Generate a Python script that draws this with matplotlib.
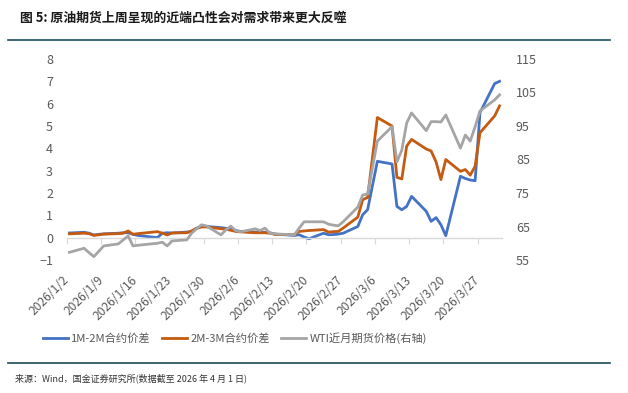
import matplotlib
matplotlib.use("Agg")
import matplotlib.pyplot as plt
import matplotlib.dates as mdates
import matplotlib.transforms as mtransforms
import pandas as pd
import numpy as np

plt.rcParams['font.family'] = ['Noto Sans CJK SC', 'DejaVu Sans']

# ---------------- data ----------------
dates = [
    "2026-01-02", "2026-01-05", "2026-01-06", "2026-01-07", "2026-01-08", "2026-01-09",
    "2026-01-12", "2026-01-13", "2026-01-14", "2026-01-15", "2026-01-16",
    "2026-01-20", "2026-01-21", "2026-01-22", "2026-01-23",
    "2026-01-26", "2026-01-27", "2026-01-28", "2026-01-29", "2026-01-30",
    "2026-02-02", "2026-02-03", "2026-02-04", "2026-02-05", "2026-02-06",
    "2026-02-09", "2026-02-10", "2026-02-11", "2026-02-12", "2026-02-13",
    "2026-02-17", "2026-02-18", "2026-02-19", "2026-02-20",
    "2026-02-23", "2026-02-24", "2026-02-25", "2026-02-26", "2026-02-27",
    "2026-03-02", "2026-03-03", "2026-03-04", "2026-03-06",
    "2026-03-09", "2026-03-10", "2026-03-11", "2026-03-12", "2026-03-13",
    "2026-03-16", "2026-03-17", "2026-03-18", "2026-03-19", "2026-03-20",
    "2026-03-23", "2026-03-24", "2026-03-25", "2026-03-26", "2026-03-27",
    "2026-03-30", "2026-03-31",
]

spread_1m2m = [
    0.21, 0.24, 0.20, 0.12, 0.15, 0.17, 0.20, 0.22, 0.22, 0.15, 0.10,
    0.00, 0.20, 0.22, 0.21, 0.25, 0.28, 0.42, 0.50, 0.50,
    0.45, 0.42, 0.38, 0.32, 0.28, 0.25, 0.24, 0.24, 0.22, 0.16,
    0.10, 0.13, 0.03, -0.05, 0.20, 0.13, 0.14, 0.16, 0.20,
    0.50, 1.03, 1.25, 3.42, 3.30, 1.40, 1.25, 1.40, 1.85,
    1.18, 0.73, 0.90, 0.58, 0.09, 2.75, 2.65, 2.58, 2.55, 5.60,
    6.90, 7.00,
]

spread_2m3m = [
    0.17, 0.20, 0.18, 0.10, 0.13, 0.16, 0.18, 0.20, 0.30, 0.15, 0.18,
    0.27, 0.20, 0.12, 0.21, 0.22, 0.30, 0.42, 0.48, 0.48,
    0.40, 0.38, 0.33, 0.28, 0.26, 0.22, 0.22, 0.22, 0.20, 0.15,
    0.13, 0.28, 0.30, 0.32, 0.36, 0.25, 0.27, 0.28, 0.43,
    0.92, 1.70, 1.80, 5.38, 5.00, 2.70, 2.63, 4.10, 4.40,
    3.97, 3.88, 3.40, 2.60, 3.50, 2.97, 3.05, 2.80, 3.20, 4.70,
    5.45, 5.90,
]

wti_front = [
    57.3, 58.5, 57.2, 56.0, 57.6, 59.2, 59.8, 61.0, 62.2, 59.2, 59.4,
    60.0, 60.3, 59.2, 60.7, 61.0, 63.0, 64.3, 65.5, 65.2,
    62.5, 64.0, 65.1, 63.8, 63.4, 64.3, 63.8, 64.5, 63.0, 62.8,
    62.5, 64.5, 66.4, 66.4, 66.4, 65.7, 65.4, 65.2, 66.4,
    70.8, 74.4, 74.7, 90.5, 94.8, 84.3, 87.8, 95.9, 98.9,
    93.6, 96.3, 96.3, 96.2, 98.3, 88.4, 92.3, 90.5, 94.8, 99.5,
    102.8, 104.3,
]

tick_dates = ["2026-01-02", "2026-01-09", "2026-01-16", "2026-01-23", "2026-01-30",
              "2026-02-06", "2026-02-13", "2026-02-20", "2026-02-27", "2026-03-06",
              "2026-03-13", "2026-03-20", "2026-03-27"]
tick_labels = ["2026/1/2", "2026/1/9", "2026/1/16", "2026/1/23", "2026/1/30",
               "2026/2/6", "2026/2/13", "2026/2/20", "2026/2/27", "2026/3/6",
               "2026/3/13", "2026/3/20", "2026/3/27"]

series_names = ["1M-2M合约价差", "2M-3M合约价差", "WTI近月期货价格(右轴)"]

title = "图 5: 原油期货上周呈现的近端凸性会对需求带来更大反噬"
source = "来源：Wind，国金证券研究所(数据截至 2026 年 4 月 1 日)"

# ---------------- figure ----------------
W, H = 628, 393
fig = plt.figure(figsize=(W / 100, H / 100), dpi=100)

left, right, top, bottom = 67, 502, 59, 260
ax = fig.add_axes([left / W, 1 - bottom / H, (right - left) / W, (bottom - top) / H])
ax2 = ax.twinx()

x = pd.to_datetime(dates) + pd.Timedelta(hours=12)

c_blue, c_orange, c_gray = "#4472C4", "#C55A11", "#A5A5A5"
lw = 2.0
l1, = ax.plot(x, spread_1m2m, color=c_blue, lw=lw, solid_joinstyle="round")
l2, = ax.plot(x, spread_2m3m, color=c_orange, lw=lw, solid_joinstyle="round")
l3, = ax2.plot(x, wti_front, color=c_gray, lw=lw, solid_joinstyle="round")

ax.set_ylim(-1, 8)
ax.set_yticks(range(-1, 9))
ax2.set_ylim(55, 115)
ax2.set_yticks(range(55, 116, 10))

xstart = pd.Timestamp("2026-01-02")
xend = pd.Timestamp("2026-04-01")
ax.set_xlim(xstart, xend)

tick_col = "#595959"
for a in (ax, ax2):
    for s in ("top", "right", "left"):
        a.spines[s].set_visible(False)
ax2.spines["bottom"].set_visible(False)

ax.spines["bottom"].set_position(("data", 0))
ax.spines["bottom"].set_color("#D9D9D9")
ax.spines["bottom"].set_linewidth(1.0)
ax.set_xticks(pd.to_datetime(tick_dates))
ax.tick_params(axis="x", which="both", direction="out", length=4, color="#D9D9D9",
               labelbottom=False)

ax.tick_params(axis="y", length=0, labelsize=9, labelcolor=tick_col, pad=10)
ax2.tick_params(axis="y", length=0, labelsize=9, labelcolor=tick_col, pad=10)

sec = ax.secondary_xaxis("bottom")
sec.set_xticks(pd.to_datetime(tick_dates))
sec.set_xticklabels(tick_labels, rotation=45, ha="right", va="center",
                    rotation_mode="anchor", fontsize=8.7, color=tick_col)
sec.tick_params(length=0, pad=13)
sec.spines["bottom"].set_visible(False)

# legend
fig.legend([l1, l2, l3], series_names, ncol=3, loc="center",
           bbox_to_anchor=(235 / W, 1 - 338 / H), frameon=False,
           fontsize=8.1, handlelength=2.2, handletextpad=0.3, columnspacing=1.0,
           labelcolor=tick_col)

# title and source
line_col = "#1B4A5A"
fig.text(20 / W, 1 - 18 / H, title, fontsize=9.3, fontweight="bold",
         color="#1A1A1A", ha="left", va="center")
fig.add_artist(plt.Line2D([8 / W, 610 / W], [1 - 40 / H, 1 - 40 / H],
                          color=line_col, lw=1.2, transform=fig.transFigure))
fig.add_artist(plt.Line2D([8 / W, 610 / W], [1 - 363 / H, 1 - 363 / H],
                          color=line_col, lw=1.2, transform=fig.transFigure))
fig.text(15 / W, 1 - 378 / H, source, fontsize=6.5, color="#333333",
         ha="left", va="center")

fig.savefig("out.png", dpi=100)
